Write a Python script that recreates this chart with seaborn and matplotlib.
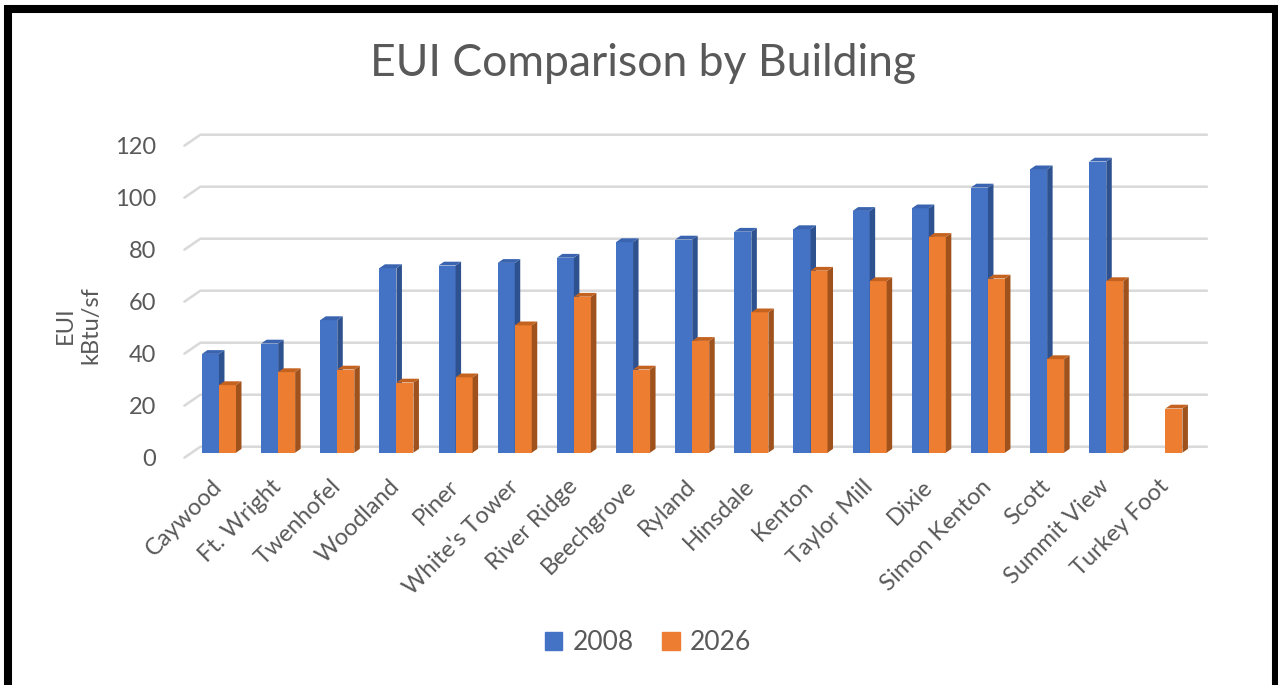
import numpy as np
import pandas as pd
import seaborn as sns
import matplotlib.pyplot as plt
from matplotlib.patches import Polygon, Rectangle, Patch
from matplotlib.transforms import IdentityTransform, ScaledTranslation

buildings = ["Caywood", "Ft. Wright", "Twenhofel", "Woodland", "Piner",
             "White's Tower", "River Ridge", "Beechgrove", "Ryland", "Hinsdale",
             "Kenton", "Taylor Mill", "Dixie", "Simon Kenton", "Scott",
             "Summit View", "Turkey Foot"]
eui_2008 = [38, 42, 51, 71, 72, 73, 75, 81, 82, 85, 86, 93, 94, 102, 109, 112, np.nan]
eui_2026 = [26, 31, 32, 27, 29, 49, 60, 32, 43, 54, 70, 66, 83, 67, 36, 66, 17]
years = ["2008", "2026"]
y_ticks = [0, 20, 40, 60, 80, 100, 120]

blue = "#4472C4"
orange = "#ED7D31"
side_col = {"2008": "#2E528F", "2026": "#A0521D"}
top_col = {"2008": "#3A64B0", "2026": "#C4621F"}
txt = "#595959"
grid_col = "#D9D9D9"

df = pd.DataFrame({"Building": buildings, "2008": eui_2008, "2026": eui_2026})
df_long = df.melt(id_vars="Building", var_name="Year", value_name="EUI").dropna()

sns.set_style("white")
plt.rcParams["font.family"] = ["Lato", "DejaVu Sans"]

W, H = 1278, 685
fig = plt.figure(figsize=(W / 100, H / 100), dpi=100)
ax = fig.add_axes([189.4 / W, (H - 452.7) / H, 1005.6 / W, 312 / H])

sns.barplot(data=df_long, x="Building", y="EUI", hue="Year", order=buildings,
            hue_order=years, palette=[blue, orange], width=0.575,
            saturation=1, ax=ax, legend=False)

ax.set_xlim(-0.5, len(buildings) - 0.5)
ax.set_ylim(0, 120)
ax.set_yticks(y_ticks)
ax.set_yticklabels([str(v) for v in y_ticks], fontsize=17, color=txt)
ax.tick_params(axis="y", length=0, pad=24)
ax.tick_params(axis="x", length=0, pad=22)
ax.set_xticks(range(len(buildings)))
ax.set_xticklabels(buildings, rotation=45, ha="right", va="center",
                   rotation_mode="anchor", fontsize=17, color=txt)
for lab in ax.get_yticklabels():
    lab.set_transform(lab.get_transform() + ScaledTranslation(0, -5 / 100, fig.dpi_scale_trans))
ax.set_xlabel("")
ax.set_ylabel("")
for s in ax.spines.values():
    s.set_visible(False)
ax.patch.set_alpha(0)

# back-wall gridlines with the slanted floor segment
xl = ax.transData.transform((-0.5, 0))[0]
xr = ax.transData.transform((len(buildings) - 0.5, 0))[0]
for v in y_ticks:
    yv = ax.transData.transform((0, v))[1]
    ax.plot([xl - 5, xl + 11, xr + 12], [yv - 5, yv + 6, yv + 6], color=grid_col,
            lw=1.8, transform=IdentityTransform(), clip_on=False, zorder=0.5)

# 3D side and top faces
dx, dy = 5.5, 3.8
for k, (cont, yr) in enumerate(zip(ax.containers, years)):
    for p in cont.patches:
        h = p.get_height()
        if not np.isfinite(h):
            continue
        p.set_zorder(2 + k)
        p.set_edgecolor("none")
        x0, y0 = ax.transData.transform((p.get_x(), 0))
        x1, y1 = ax.transData.transform((p.get_x() + p.get_width(), h))
        side = Polygon([(x1, y0), (x1 + dx, y0 + dy), (x1 + dx, y1 + dy), (x1, y1)],
                       closed=True, fc=side_col[yr], ec="none",
                       transform=IdentityTransform(), clip_on=False, zorder=2 + k + 0.1)
        top = Polygon([(x0, y1), (x1, y1), (x1 + dx, y1 + dy), (x0 + dx, y1 + dy)],
                      closed=True, fc=top_col[yr], ec="none",
                      transform=IdentityTransform(), clip_on=False, zorder=2 + k + 0.1)
        ax.add_artist(side)
        ax.add_artist(top)

fig.text(643 / W, 1 - 63 / H, "EUI Comparison by Building", ha="center", va="center",
         fontsize=32, color=txt)
fig.text(78 / W, 1 - 325 / H, "EUI\nkBtu/sf", rotation=90, ha="center", va="center",
         fontsize=17, color=txt, linespacing=1.3)

handles = [Patch(color=blue, label="2008"), Patch(color=orange, label="2026")]
fig.legend(handles=handles, loc="center", bbox_to_anchor=(648 / W, 1 - 643 / H), ncol=2,
           frameon=False, fontsize=19, labelcolor=txt, handlelength=0.65,
           handleheight=0.65, handletextpad=0.4, columnspacing=1.1)

# outer black frame
fig.patches.append(Rectangle((8 / W, -0.1), (1276 - 8) / W, 1.1 - 9 / H, fill=False,
                             lw=5.8, ec="black", transform=fig.transFigure))

fig.savefig("out.png", dpi=100)
